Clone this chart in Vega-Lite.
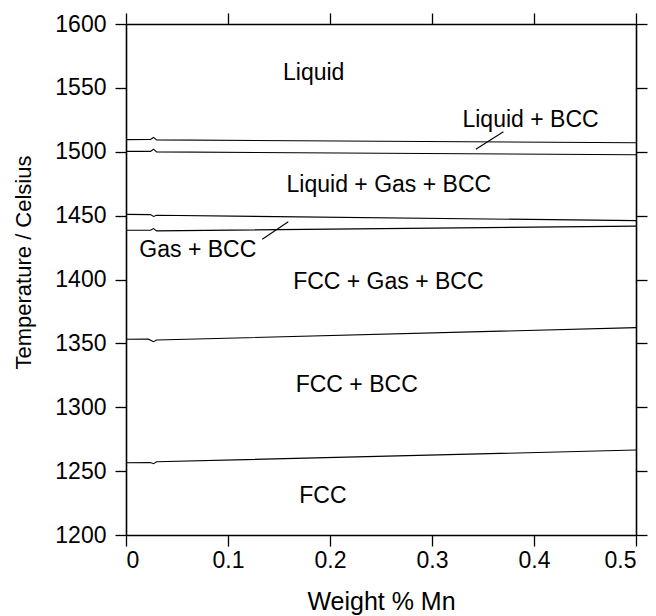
{
  "$schema": "https://vega.github.io/schema/vega-lite/v6.json",
  "width": 510,
  "height": 511,
  "autosize": {"type": "none"},
  "padding": {"left": 126, "top": 24, "right": 20, "bottom": 81},
  "background": "white",
  "config": {
    "view": {"stroke": null},
    "font": "Liberation Sans"
  },
  "datasets": {
    "curves": [
      {"id": "c1", "x": 0, "t": 1509.5},
      {"id": "c1", "x": 0.024, "t": 1509.6},
      {"id": "c1", "x": 0.027, "t": 1511.2},
      {"id": "c1", "x": 0.03, "t": 1509.3},
      {"id": "c1", "x": 0.5, "t": 1507.1},
      {"id": "c2", "x": 0, "t": 1500.3},
      {"id": "c2", "x": 0.024, "t": 1500.3},
      {"id": "c2", "x": 0.027, "t": 1502.0},
      {"id": "c2", "x": 0.03, "t": 1499.9},
      {"id": "c2", "x": 0.5, "t": 1497.6},
      {"id": "c3", "x": 0, "t": 1451.0},
      {"id": "c3", "x": 0.024, "t": 1450.8},
      {"id": "c3", "x": 0.027, "t": 1449.4},
      {"id": "c3", "x": 0.03, "t": 1450.3},
      {"id": "c3", "x": 0.5, "t": 1446.1},
      {"id": "c4", "x": 0, "t": 1438.6},
      {"id": "c4", "x": 0.024, "t": 1438.6},
      {"id": "c4", "x": 0.027, "t": 1439.9},
      {"id": "c4", "x": 0.03, "t": 1438.1},
      {"id": "c4", "x": 0.5, "t": 1441.8},
      {"id": "c5", "x": 0, "t": 1353.2},
      {"id": "c5", "x": 0.022, "t": 1353.3},
      {"id": "c5", "x": 0.027, "t": 1351.3},
      {"id": "c5", "x": 0.03, "t": 1352.6},
      {"id": "c5", "x": 0.5, "t": 1362.3},
      {"id": "c6", "x": 0, "t": 1256.6},
      {"id": "c6", "x": 0.024, "t": 1256.7},
      {"id": "c6", "x": 0.027, "t": 1255.8},
      {"id": "c6", "x": 0.03, "t": 1257.3},
      {"id": "c6", "x": 0.5, "t": 1266.5},
      {"id": "l1", "x": 0.370, "t": 1515.7},
      {"id": "l1", "x": 0.343, "t": 1501.9},
      {"id": "l2", "x": 0.1336, "t": 1431.5},
      {"id": "l2", "x": 0.1591, "t": 1445.2}
    ],
    "labels": [
      {"label": "Liquid", "x": 0.184, "t": 1561.6},
      {"label": "Liquid + BCC", "x": 0.3966, "t": 1524.9},
      {"label": "Liquid + Gas + BCC", "x": 0.2577, "t": 1474.0},
      {"label": "Gas + BCC", "x": 0.0704, "t": 1423.0},
      {"label": "FCC + Gas + BCC", "x": 0.2572, "t": 1398.3},
      {"label": "FCC + BCC", "x": 0.2262, "t": 1317.4},
      {"label": "FCC", "x": 0.193, "t": 1230.9}
    ]
  },
  "layer": [
    {
      "data": {"name": "curves"},
      "mark": {"type": "line", "color": "black", "strokeWidth": 1.1, "interpolate": "linear"},
      "encoding": {
        "x": {"field": "x", "type": "quantitative", "scale": {"domain": [0, 0.5], "nice": false},
              "axis": {"orient": "bottom", "values": [0, 0.1, 0.2, 0.3, 0.4, 0.5], "format": ".1~f",
                       "domainColor": "black", "domainWidth": 1.6, "tickColor": "black", "tickWidth": 1.3, "tickSize": 11,
                       "labelColor": "black", "labelFont": "Liberation Sans", "labelFontSize": 23, "labelPadding": 3,
                       "grid": false, "title": "Weight % Mn", "titleColor": "black", "titleFont": "Liberation Sans",
                       "titleFontSize": 25, "titleFontWeight": "normal", "titlePadding": 17}},
        "y": {"field": "t", "type": "quantitative", "scale": {"domain": [1200, 1600], "nice": false, "zero": false},
              "axis": {"orient": "left", "values": [1200, 1250, 1300, 1350, 1400, 1450, 1500, 1550, 1600], "format": "d",
                       "domainColor": "black", "domainWidth": 1.6, "tickColor": "black", "tickWidth": 1.3, "tickSize": 11,
                       "labelColor": "black", "labelFont": "Liberation Sans", "labelFontSize": 23, "labelPadding": 9,
                       "grid": false, "title": "Temperature / Celsius", "titleColor": "black", "titleFont": "Liberation Sans",
                       "titleFontSize": 22, "titleFontWeight": "normal", "titlePadding": 19, "titleY": 238}},
        "detail": {"field": "id", "type": "nominal"}
      }
    },
    {
      "data": {"name": "labels"},
      "mark": {"type": "text", "color": "black", "fontSize": 23, "font": "Liberation Sans", "align": "center", "baseline": "middle"},
      "encoding": {
        "x": {"field": "x", "type": "quantitative",
              "axis": {"orient": "top", "values": [0, 0.1, 0.2, 0.3, 0.4, 0.5], "labels": false, "title": null,
                       "domainColor": "black", "domainWidth": 1.6, "tickColor": "black", "tickWidth": 1.3, "tickSize": 11, "grid": false}},
        "y": {"field": "t", "type": "quantitative",
              "axis": {"orient": "right", "values": [1200, 1250, 1300, 1350, 1400, 1450, 1500, 1550, 1600], "labels": false, "title": null,
                       "domainColor": "black", "domainWidth": 1.6, "tickColor": "black", "tickWidth": 1.3, "tickSize": 11, "grid": false}},
        "text": {"field": "label", "type": "nominal"}
      }
    }
  ],
  "resolve": {"axis": {"x": "independent", "y": "independent"}}
}
